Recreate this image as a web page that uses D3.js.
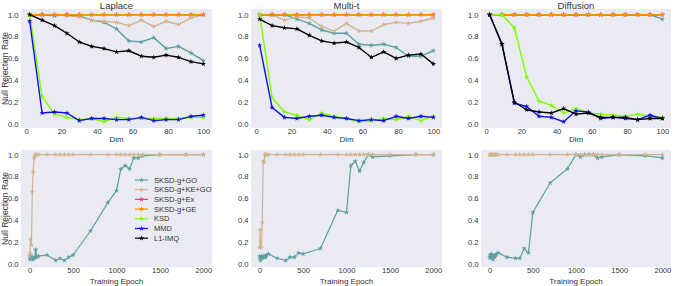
<!DOCTYPE html>
<html lang="en">
  <head>
    <meta charset="UTF-8" />
    <title>Null rejection rate</title>
    <style>
      body {
        margin: 0;
        background: #fff;
      }
      text {
        font-family: "Liberation Sans", Arial, sans-serif;
        fill: #333;
      }
    </style>
  </head>
  <body>
    <svg id="chart"></svg>
    <script src="https://cdnjs.cloudflare.com/ajax/libs/d3/7.4.4/d3.min.js"></script>
    <script>
      // ---- data ----
      const methods = ["SKSD-g+GO", "SKSD-g+KE+GO", "SKSD-g+Ex", "SKSD-g+GE", "KSD", "MMD", "L1-IMQ"];
      const dims = [2, 9, 16, 23, 30, 37, 44, 51, 58, 65, 72, 79, 86, 93, 100];
      const epochs = [1, 5, 10, 20, 30, 40, 50, 60, 70, 80, 100, 200, 300, 350, 400, 450, 500,
        700, 900, 1000, 1050, 1100, 1150, 1200, 1250, 1300, 1500, 1800, 2000];
      const yTicks = [0, 0.2, 0.4, 0.6, 0.8, 1.0];
      const dimTicks = [0, 20, 40, 60, 80, 100];
      const epochTicks = [0, 500, 1000, 1500, 2000];

      // top row: one array per method, in the order of `methods`
      const laplace = [
        [1.0, 1.0, 0.99, 1.0, 0.99, 0.95, 0.93, 0.87, 0.76, 0.75, 0.79, 0.69, 0.71, 0.65, 0.58],
        [1.0, 1.0, 1.0, 0.99, 0.98, 0.95, 0.94, 0.93, 0.90, 0.95, 0.89, 0.94, 0.91, 0.97, 1.0],
        [1.0, 1.0, 1.0, 1.0, 1.0, 1.0, 1.0, 1.0, 1.0, 1.0, 1.0, 1.0, 1.0, 1.0, 1.0],
        [1.0, 1.0, 1.0, 1.0, 1.0, 1.0, 1.0, 1.0, 1.0, 1.0, 1.0, 1.0, 1.0, 1.0, 1.0],
        [1.0, 0.25, 0.09, 0.06, 0.04, 0.05, 0.02, 0.06, 0.05, 0.05, 0.05, 0.05, 0.05, 0.06, 0.06],
        [0.94, 0.10, 0.11, 0.10, 0.03, 0.05, 0.05, 0.04, 0.04, 0.06, 0.03, 0.04, 0.04, 0.07, 0.08],
        [1.0, 0.95, 0.90, 0.83, 0.75, 0.71, 0.69, 0.66, 0.67, 0.62, 0.61, 0.63, 0.61, 0.57, 0.55],
      ];
      const multiT = [
        [1.0, 1.0, 1.0, 0.96, 0.92, 0.86, 0.83, 0.83, 0.73, 0.72, 0.73, 0.70, 0.62, 0.62, 0.67],
        [1.0, 1.0, 0.95, 0.98, 0.97, 0.89, 0.85, 0.92, 0.85, 0.85, 0.91, 0.93, 0.92, 0.94, 0.97],
        [1.0, 1.0, 1.0, 1.0, 1.0, 1.0, 1.0, 1.0, 1.0, 1.0, 1.0, 1.0, 1.0, 1.0, 1.0],
        [1.0, 1.0, 1.0, 1.0, 1.0, 1.0, 1.0, 1.0, 1.0, 1.0, 1.0, 1.0, 1.0, 1.0, 1.0],
        [1.0, 0.24, 0.11, 0.08, 0.04, 0.10, 0.07, 0.05, 0.02, 0.03, 0.05, 0.04, 0.07, 0.03, 0.07],
        [0.72, 0.15, 0.06, 0.05, 0.07, 0.08, 0.06, 0.05, 0.03, 0.04, 0.03, 0.07, 0.05, 0.07, 0.06],
        [0.96, 0.90, 0.88, 0.87, 0.81, 0.76, 0.74, 0.75, 0.70, 0.61, 0.66, 0.60, 0.63, 0.64, 0.55],
      ];
      const diffusion = [
        [1.0, 1.0, 1.0, 1.0, 1.0, 1.0, 1.0, 1.0, 1.0, 1.0, 1.0, 1.0, 1.0, 1.0, 0.96],
        [1.0, 1.0, 1.0, 1.0, 1.0, 1.0, 1.0, 1.0, 1.0, 1.0, 1.0, 1.0, 1.0, 1.0, 1.0],
        [1.0, 1.0, 1.0, 1.0, 1.0, 1.0, 1.0, 1.0, 1.0, 1.0, 1.0, 1.0, 1.0, 1.0, 1.0],
        [1.0, 1.0, 1.0, 1.0, 1.0, 1.0, 1.0, 1.0, 1.0, 1.0, 1.0, 1.0, 1.0, 1.0, 1.0],
        [1.0, 1.0, 0.88, 0.43, 0.21, 0.17, 0.10, 0.14, 0.10, 0.09, 0.08, 0.07, 0.09, 0.07, 0.06],
        [1.0, 0.73, 0.19, 0.16, 0.07, 0.06, 0.02, 0.12, 0.11, 0.05, 0.06, 0.05, 0.04, 0.08, 0.05],
        [1.0, 0.73, 0.20, 0.13, 0.11, 0.10, 0.14, 0.09, 0.10, 0.06, 0.06, 0.06, 0.04, 0.05, 0.05],
      ];

      // bottom row: only SKSD-g+GO and SKSD-g+KE+GO are plotted
      const laplaceGO = [0.07, 0.04, 0.08, 0.05, 0.06, 0.04, 0.05, 0.06, 0.13, 0.06, 0.07, 0.08, 0.03, 0.05,
        0.03, 0.06, 0.08, 0.30, 0.56, 0.67, 0.87, 0.90, 0.87, 0.97, 0.97, 0.99, 1.0, 1.0, 1.0];
      const laplaceKE = [0.07, 0.10, 0.22, 0.17, 0.66, 0.84, 0.97, 0.99, 1.0, 1.0, 1.0, 1.0, 1.0, 1.0,
        1.0, 1.0, 1.0, 1.0, 1.0, 1.0, 1.0, 1.0, 1.0, 1.0, 1.0, 1.0, 1.0, 1.0, 1.0];
      const multiTGO = [0.07, 0.05, 0.03, 0.07, 0.05, 0.07, 0.06, 0.07, 0.06, 0.08, 0.09, 0.05, 0.03, 0.06,
        0.06, 0.10, 0.09, 0.14, 0.49, 0.47, 0.90, 0.94, 0.85, 0.93, 1.0, 0.98, 0.99, 1.0, 1.0];
      const multiTKE = [0.15, 0.31, 0.15, 0.15, 0.38, 0.94, 0.93, 1.0, 1.0, 1.0, 1.0, 1.0, 1.0, 1.0,
        1.0, 1.0, 1.0, 1.0, 1.0, 1.0, 1.0, 1.0, 1.0, 1.0, 1.0, 1.0, 1.0, 1.0, 1.0];
      const diffusionGO = [0.06, 0.08, 0.05, 0.09, 0.07, 0.04, 0.07, 0.06, 0.08, 0.09, 0.10, 0.06, 0.05, 0.05,
        0.14, 0.10, 0.47, 0.74, 0.87, 1.0, 0.98, 1.0, 1.0, 1.0, 0.97, 0.98, 1.0, 0.99, 0.97];
      const diffusionKE = [1.0, 1.0, 1.0, 1.0, 1.0, 1.0, 1.0, 1.0, 1.0, 1.0, 1.0, 1.0, 1.0, 1.0,
        1.0, 1.0, 1.0, 1.0, 1.0, 1.0, 1.0, 1.0, 1.0, 1.0, 1.0, 1.0, 1.0, 1.0, 1.0];

      // ---- style ----
      const colors = ["#5f9ea0", "#d2b48c", "#ff3399", "#ff8c00", "#7cfc00", "#1010e0", "#000000"];
      const W = 674, H = 286;
      const cols = [[21, 212], [251, 442], [481, 671]];
      const rows = [[9, 128], [150, 267]];

      const svg = d3.select("#chart").attr("width", W).attr("height", H);
      const star = d3.symbol().type(d3.symbolStar).size(9);

      function panel(col, row, xs, series, opts) {
        const [x0, x1] = cols[col];
        const [y0, y1] = rows[row];
        const x = d3.scaleLinear().domain(opts.xDomain).range([x0, x1]);
        const y = d3.scaleLinear().domain(opts.yDomain).range([y1, y0]);
        const g = svg.append("g");

        g.append("rect")
          .attr("x", x0).attr("y", y0)
          .attr("width", x1 - x0).attr("height", y1 - y0)
          .attr("fill", "#eaeaf2");

        const xa = g.append("g")
          .attr("transform", `translate(0,${y1})`)
          .call(d3.axisBottom(x).tickValues(opts.xTicks).tickSize(0).tickPadding(0.5).tickFormat(d3.format("d")));
        const ya = g.append("g")
          .attr("transform", `translate(${x0},0)`)
          .call(d3.axisLeft(y).tickValues(yTicks).tickSize(0).tickPadding(2.5).tickFormat(d3.format(".1f")));
        [xa, ya].forEach((a) => {
          a.select(".domain").remove();
          a.selectAll("text").attr("font-size", 7.6).style("fill", "#333");
        });

        const line = d3.line().x((d) => x(d[0])).y((d) => y(d[1]));
        series.forEach((s) => {
          const pts = xs.map((v, i) => [v, s.vals[i]]);
          g.append("path")
            .datum(pts)
            .attr("d", line)
            .attr("fill", "none")
            .attr("stroke", colors[s.k])
            .attr("stroke-width", opts.lw)
            .attr("stroke-linejoin", "round");
          g.selectAll(null)
            .data(pts)
            .enter()
            .append("path")
            .attr("d", star)
            .attr("transform", (d) => `translate(${x(d[0])},${y(d[1])})`)
            .attr("fill", colors[s.k]);
        });

        if (opts.title) {
          g.append("text")
            .attr("x", (x0 + x1) / 2).attr("y", 8.5)
            .attr("text-anchor", "middle")
            .attr("font-size", 9.5)
            .text(opts.title);
        }
        g.append("text")
          .attr("x", (x0 + x1) / 2).attr("y", y1 + opts.labelGap)
          .attr("text-anchor", "middle")
          .attr("font-size", 8)
          .text(opts.xLabel);
        if (col === 0) {
          g.append("text")
            .attr("transform", `translate(7.5,${(y0 + y1) / 2}) rotate(-90)`)
            .attr("text-anchor", "middle")
            .attr("font-size", 8.5)
            .text("Null Rejection Rate");
        }
        return g;
      }

      const topOpts = { xDomain: [-2.9, 104.9], yDomain: [-0.037, 1.052], xTicks: dimTicks,
        xLabel: "Dim", labelGap: 13.5, lw: 1.4 };
      [laplace, multiT, diffusion].forEach((set, c) => {
        panel(c, 0, dims, set.map((vals, k) => ({ k, vals })),
          Object.assign({ title: ["Laplace", "Multi-t", "Diffusion"][c] }, topOpts));
      });

      const botOpts = { xDomain: [-100, 2100], yDomain: [-0.03, 1.043], xTicks: epochTicks,
        xLabel: "Training Epoch", labelGap: 16.5, lw: 1.2 };
      const botSets = [[laplaceGO, laplaceKE], [multiTGO, multiTKE], [diffusionGO, diffusionKE]];
      botSets.forEach((set, c) => {
        panel(c, 1, epochs, [{ k: 0, vals: set[0] }, { k: 1, vals: set[1] }], botOpts);
      });

      // legend in the bottom-left panel
      const leg = svg.append("g").attr("transform", "translate(135,180)");
      const li = leg.selectAll("g").data(methods).enter().append("g")
        .attr("transform", (d, i) => `translate(0,${i * 9.7})`);
      li.append("line")
        .attr("x1", 0).attr("x2", 13)
        .attr("stroke", (d, i) => colors[i])
        .attr("stroke-width", 1.2);
      li.append("path")
        .attr("d", star)
        .attr("transform", "translate(6.5,0)")
        .attr("fill", (d, i) => colors[i]);
      li.append("text")
        .attr("x", 19).attr("y", 2.6)
        .attr("font-size", 7.5)
        .text((d) => d);
    </script>
  </body>
</html>
